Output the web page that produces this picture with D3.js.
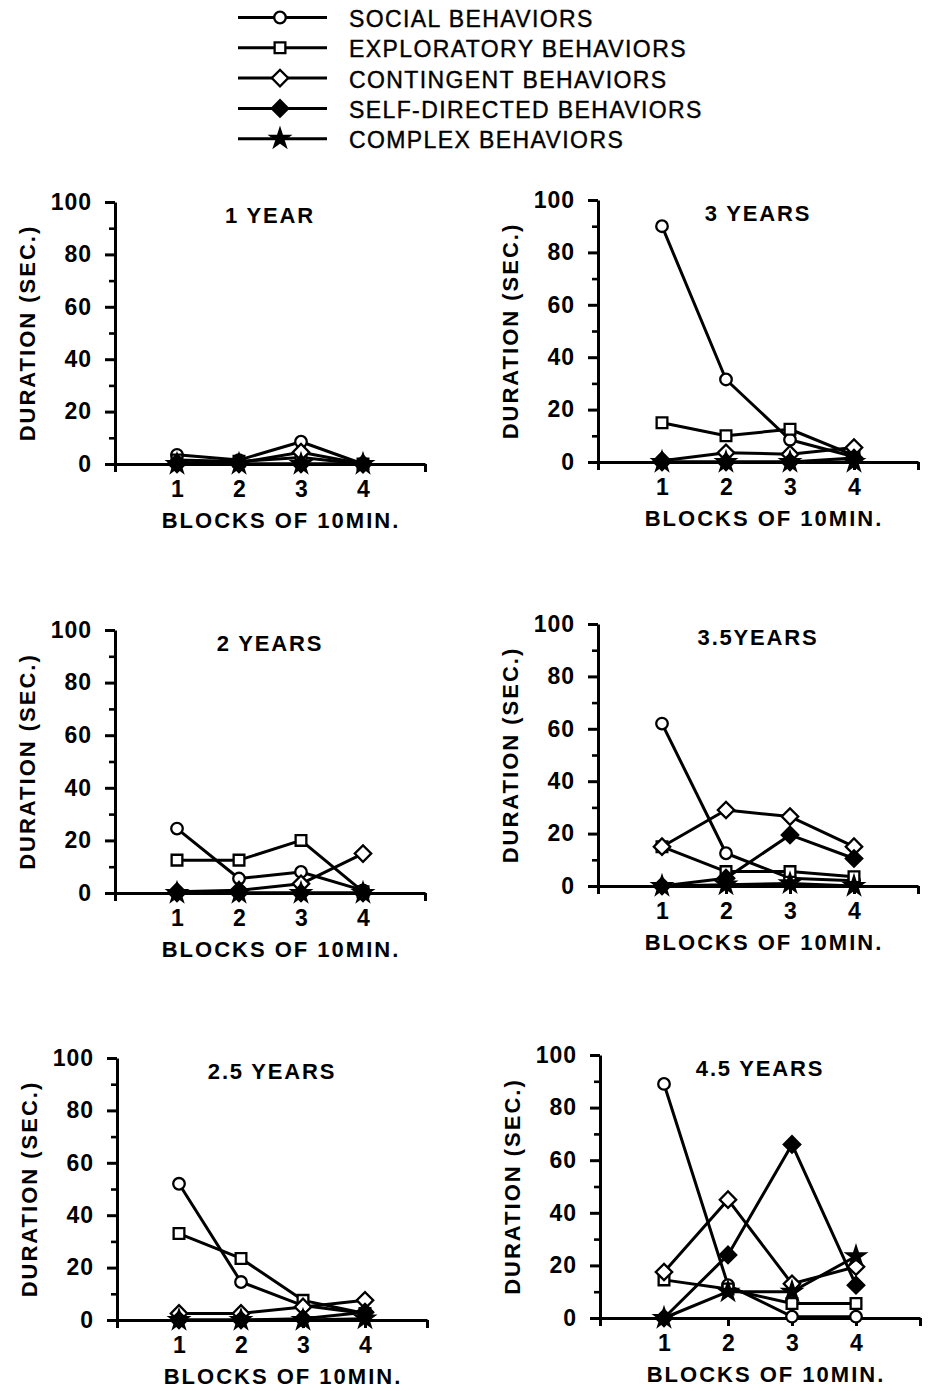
<!DOCTYPE html>
<html>
<head>
<meta charset="utf-8">
<script src="https://cdn.jsdelivr.net/npm/d3@7"></script>
<style>
  body { margin: 0; background: #fff; }
  svg { display: block; }
  text { font-family: "Liberation Sans", Arial, Helvetica, sans-serif; fill: #000; }
</style>
</head>
<body>
<svg id="chart" width="932" height="1391"></svg>
<script>
// Duration (sec.) of each behaviour category per 10-minute block, by age group.
const blocks = [1, 2, 3, 4];
const panelTitles = ["1 YEAR", "3 YEARS", "2 YEARS", "3.5YEARS", "2.5 YEARS", "4.5 YEARS"];
const seriesNames = [
  "SOCIAL BEHAVIORS",
  "EXPLORATORY BEHAVIORS",
  "CONTINGENT BEHAVIORS",
  "SELF-DIRECTED BEHAVIORS",
  "COMPLEX BEHAVIORS"
];

// one row per panel, in the order of panelTitles
const social = [
  [3.5, 1.5, 8.5, 0],
  [90, 31.5, 8.5, 2],
  [24.5, 5.5, 8, 1],
  [62, 12.5, 3, 2],
  [52, 14.5, 5.5, 2.5],
  [89, 12.5, 0.5, 0.5]
];
const exploratory = [
  [1.5, 1, 2.5, 0],
  [15, 10, 12.5, 2.5],
  [12.5, 12.5, 20, 0.5],
  [15, 5.5, 5.5, 3.5],
  [33, 23.5, 7.5, 2.5],
  [14.5, 11, 5.5, 5.5]
];
const contingent = [
  [0.5, 0.5, 4.5, 0],
  [0.5, 3.5, 3, 5.5],
  [0.5, 1, 3.5, 15],
  [15, 29, 26.5, 15],
  [2.5, 2.5, 5, 7.5],
  [17.5, 45, 13, 19.5]
];
const selfDirected = [
  [0, 0, 0, 0],
  [0, 0, 0, 1.5],
  [0, 0, 0, 0],
  [0, 3, 19.5, 10.5],
  [0, 0, 0.5, 3],
  [0, 24, 66, 12.5]
];
const complexBehaviors = [
  [0, 0, 0, 0],
  [0, 0, 0, 0],
  [0, 0, 0, 0],
  [0, 0.5, 1, 0],
  [0, 0, 0, 0.5],
  [0, 10, 10, 23.5]
];

const yTicks = [0, 20, 40, 60, 80, 100];
const yMinorTicks = [10, 30, 50, 70, 90];
const xTicks = [0, 1, 2, 3, 4, 5];
const xLabelled = ["1", "2", "3", "4"];
const yTitle = "DURATION (SEC.)";
const xTitle = "BLOCKS OF 10MIN.";

const seriesValues = [social, exploratory, contingent, selfDirected, complexBehaviors];

// marker look for each series
const markers = [
  { type: d3.symbolCircle, size: 105, fill: "#fff", rotate: 0 },
  { type: d3.symbolSquare, size: 115, fill: "#fff", rotate: 0 },
  { type: d3.symbolSquare, size: 135, fill: "#fff", rotate: 45 },
  { type: d3.symbolSquare, size: 135, fill: "#000", rotate: 45 },
  { type: d3.symbolStar, size: 100, fill: "#000", rotate: 0 }
];

// plotting frames: 2 columns x 3 rows
const frames = [
  { left: 115, right: 425, top: 202, bottom: 464 },
  { left: 598, right: 918, top: 200, bottom: 462 },
  { left: 115, right: 425, top: 630, bottom: 893 },
  { left: 598, right: 918, top: 624, bottom: 886 },
  { left: 117, right: 427, top: 1058, bottom: 1320 },
  { left: 600, right: 920, top: 1055, bottom: 1318 }
];

const svg = d3.select("#chart");

function drawMarker(g, m, x, y) {
  g.append("path")
    .attr("d", d3.symbol(m.type, m.size)())
    .attr("transform", `translate(${x},${y}) rotate(${m.rotate})`)
    .attr("fill", m.fill)
    .attr("stroke", "#000")
    .attr("stroke-width", 2.3)
    .attr("stroke-linejoin", "miter");
}

// ---- legend ----
const legend = svg.append("g");
seriesNames.forEach((name, i) => {
  const base = 27 + i * 30.3;
  const cy = base - 9.5;
  legend.append("line")
    .attr("x1", 238).attr("x2", 327)
    .attr("y1", cy).attr("y2", cy)
    .attr("stroke", "#000").attr("stroke-width", 3);
  drawMarker(legend, markers[i], 280, cy);
  legend.append("text")
    .attr("x", 349).attr("y", base)
    .attr("font-size", 23)
    .attr("letter-spacing", 1.4)
    .attr("stroke", "#000").attr("stroke-width", 0.4)
    .text(name);
});

// ---- panels ----
panelTitles.forEach((title, p) => {
  const f = frames[p];
  const x = d3.scaleLinear().domain([0, 5]).range([f.left, f.right]);
  const y = d3.scaleLinear().domain([0, 100]).range([f.bottom, f.top]);
  const g = svg.append("g");

  // minor y ticks
  g.append("g")
    .attr("transform", `translate(${f.left},0)`)
    .call(d3.axisLeft(y).tickValues(yMinorTicks).tickSize(6).tickFormat(""))
    .call(a => a.select(".domain").remove())
    .call(a => a.selectAll("line").attr("stroke-width", 2.6));

  // major y ticks and labels
  g.append("g")
    .attr("transform", `translate(${f.left},0)`)
    .call(d3.axisLeft(y).tickValues(yTicks).tickSize(10).tickSizeOuter(0).tickPadding(13))
    .call(a => a.select(".domain").attr("stroke-width", 3))
    .call(a => a.selectAll("line").attr("stroke-width", 3))
    .call(a => a.selectAll("text")
      .attr("font-size", 23).attr("font-weight", "bold")
      .attr("letter-spacing", 1).attr("font-family", null));

  // x axis
  g.append("g")
    .attr("transform", `translate(0,${f.bottom})`)
    .call(d3.axisBottom(x).tickValues(xTicks).tickSize(8).tickSizeOuter(0).tickPadding(9)
      .tickFormat(d => xLabelled.includes(String(d)) ? String(d) : ""))
    .call(a => a.select(".domain").attr("stroke-width", 3))
    .call(a => a.selectAll("line").attr("stroke-width", 3))
    .call(a => a.selectAll("text")
      .attr("font-size", 23).attr("font-weight", "bold").attr("font-family", null));

  // titles
  g.append("text")
    .attr("x", x(2.5)).attr("y", f.top + 21)
    .attr("text-anchor", "middle")
    .attr("font-size", 22).attr("font-weight", "bold").attr("letter-spacing", 1.8)
    .text(title);

  g.append("text")
    .attr("x", f.left + 166).attr("y", f.bottom + 64)
    .attr("text-anchor", "middle")
    .attr("font-size", 22).attr("font-weight", "bold").attr("letter-spacing", 2)
    .text(xTitle);

  const yMid = (f.top + f.bottom) / 2;
  g.append("text")
    .attr("transform", `translate(${f.left - 80},${yMid}) rotate(-90)`)
    .attr("text-anchor", "middle")
    .attr("font-size", 22).attr("font-weight", "bold").attr("letter-spacing", 2)
    .text(yTitle);

  // series lines
  const line = d3.line().x((d, i) => x(blocks[i])).y(d => y(d));
  seriesValues.forEach(vals => {
    g.append("path")
      .attr("d", line(vals[p]))
      .attr("fill", "none")
      .attr("stroke", "#000")
      .attr("stroke-width", 3)
      .attr("stroke-linejoin", "round");
  });

  // markers on top
  seriesValues.forEach((vals, s) => {
    vals[p].forEach((v, i) => drawMarker(g, markers[s], x(blocks[i]), y(v)));
  });
});
</script>
</body>
</html>
